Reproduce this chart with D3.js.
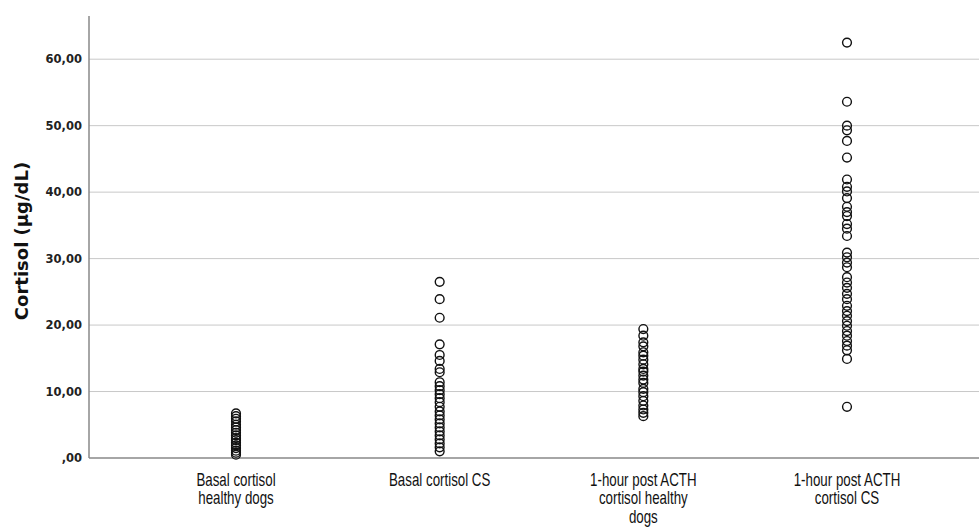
<!DOCTYPE html>
<html>
<head>
<meta charset="utf-8">
<script src="https://cdn.jsdelivr.net/npm/d3@7"></script>
<style>
  body { margin: 0; background: #fff; }
  svg { display: block; }
</style>
</head>
<body>
<svg width="979" height="528"></svg>
<script>
// groups on the x axis
const categories = [
    ["Basal cortisol", "healthy dogs"],
    ["Basal cortisol CS"],
    ["1-hour post ACTH", "cortisol healthy", "dogs"],
    ["1-hour post ACTH", "cortisol CS"]
];

// cortisol values, one list per group
const basalHealthy = [6.7, 6.3, 5.9, 5.5, 5.0, 4.6, 4.2, 3.8, 3.4, 3.0, 2.7, 2.3, 1.9, 1.5, 1.1, 0.8, 0.5];
const basalCS = [26.5, 23.9, 21.1, 17.1, 15.5, 14.6, 13.4, 12.9, 11.4, 10.8, 10.2, 9.6, 9.0, 8.4, 7.7,
    7.0, 6.4, 5.8, 5.2, 4.6, 4.0, 3.4, 2.8, 2.2, 1.6, 1.0];
const postHealthy = [19.4, 18.4, 17.4, 16.8, 15.9, 15.4, 14.8, 14.1, 13.4, 13.0, 12.4, 11.8, 11.3,
    10.4, 9.9, 9.3, 8.6, 7.9, 7.3, 6.8, 6.3];
const postCS = [62.5, 53.6, 50.0, 49.3, 47.7, 45.2, 41.9, 40.8, 40.1, 39.1, 37.8, 37.0, 36.4, 35.2, 34.5,
    33.4, 30.9, 30.2, 29.4, 28.7, 27.2, 26.4, 25.6, 24.7, 23.9, 22.9, 22.1, 21.4, 20.6, 19.9, 19.1,
    18.4, 17.6, 16.9, 16.2, 14.9, 7.7];
const yTicks = [0, 10, 20, 30, 40, 50, 60];

const series = [basalHealthy, basalCS, postHealthy, postCS];

const svg = d3.select("svg");
const W = +svg.attr("width");
const H = +svg.attr("height");
const M = {top: 16, right: 0, bottom: 70, left: 89};

const x = d3.scalePoint()
    .domain(d3.range(categories.length))
    .range([M.left + 147, W - 132]);

const y = d3.scaleLinear()
    .domain([0, 66.5])
    .range([H - M.bottom, M.top]);

// horizontal grid lines
svg.append("g")
    .selectAll("line")
    .data(yTicks.slice(1))
    .join("line")
    .attr("x1", M.left)
    .attr("x2", W)
    .attr("y1", d => y(d))
    .attr("y2", d => y(d))
    .attr("stroke", "#c8c8c8")
    .attr("stroke-width", 1);

// y axis
const yAxis = svg.append("g")
    .attr("transform", `translate(${M.left},0)`)
    .call(d3.axisLeft(y)
        .tickValues(yTicks)
        .tickSize(0)
        .tickPadding(7)
        .tickFormat(d => d === 0 ? ",00" : d.toFixed(2).replace(".", ",")));
yAxis.select(".domain")
    .attr("stroke", "#888")
    .attr("stroke-width", 1.5)
    .attr("d", `M0,${M.top}V${y(0)}`);
yAxis.selectAll("text")
    .attr("font-family", "DejaVu Sans, sans-serif")
    .attr("font-weight", "bold")
    .attr("font-size", 11.5)
    .attr("fill", "#222");

// x axis line
svg.append("line")
    .attr("x1", M.left)
    .attr("x2", W)
    .attr("y1", y(0))
    .attr("y2", y(0))
    .attr("stroke", "#888")
    .attr("stroke-width", 1.5);

// y axis title
svg.append("text")
    .attr("transform", `translate(28,241) rotate(-90)`)
    .attr("text-anchor", "middle")
    .attr("font-family", "DejaVu Sans, sans-serif")
    .attr("font-weight", "bold")
    .attr("font-size", 18)
    .attr("fill", "#111")
    .text("Cortisol (µg/dL)");

// category labels, condensed by a horizontal squeeze
svg.append("g")
    .selectAll("g")
    .data(categories)
    .join("g")
    .attr("transform", (d, i) => `translate(${x(i)},${y(0) + 28}) scale(0.74,1)`)
    .selectAll("text")
    .data(d => d)
    .join("text")
    .attr("y", (d, i) => i * 18.5)
    .attr("text-anchor", "middle")
    .attr("font-family", "Liberation Sans, Arial, sans-serif")
    .attr("font-size", 18)
    .attr("fill", "#111")
    .text(d => d);

// points
svg.append("g")
    .selectAll("g")
    .data(series)
    .join("g")
    .selectAll("circle")
    .data((d, i) => d.map(v => ({i, v})))
    .join("circle")
    .attr("cx", d => x(d.i))
    .attr("cy", d => y(d.v))
    .attr("r", 4.4)
    .attr("fill", "none")
    .attr("stroke", "#111")
    .attr("stroke-width", 1.4);
</script>
</body>
</html>
